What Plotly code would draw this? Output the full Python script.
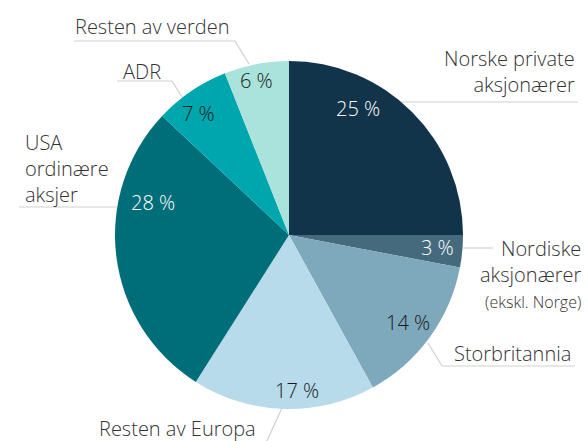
import plotly.graph_objects as go

# Shareholder distribution (percent of shares)
categories = [
    "Norske private aksjonærer",
    "Nordiske aksjonærer (ekskl. Norge)",
    "Storbritannia",
    "Resten av Europa",
    "USA ordinære aksjer",
    "ADR",
    "Resten av verden",
]
shares = [25, 3, 14, 17, 28, 7, 6]
colors = ["#12344A", "#456A7E", "#7EA8BC", "#B7DBEA", "#006E78", "#00A6AE", "#A9E3DC"]
value_text_colors = ["white", "white", "#1a1a1a", "#1a1a1a", "white", "#1a1a1a", "#1a1a1a"]

W, H = 588, 441
FONT = "Open Sans"
WEIGHT = 300
SIZE = 20
LABEL_COLOR = "#333333"
LINE_COLOR = "#d0d0d0"

# Pie placement (pixels)
cx, cy, r = 289, 235, 174


def px(x, y):
    return x / W, 1 - y / H


fig = go.Figure(
    go.Pie(
        labels=categories,
        values=shares,
        sort=False,
        direction="clockwise",
        rotation=0,
        marker=dict(colors=colors, line=dict(width=0)),
        textinfo="none",
        hoverinfo="label+percent",
        showlegend=False,
        domain=dict(x=[(cx - r) / W, (cx + r) / W], y=[(H - cy - r) / H, (H - cy + r) / H]),
    )
)

# value labels inside the slices
value_pos = [(358, 108), (437, 247), (408, 322), (297, 390), (153, 202), (198, 113), (256, 80)]
annotations = []
for v, c, (x, y) in zip(shares, value_text_colors, value_pos):
    ax, ay = px(x, y)
    annotations.append(dict(
        x=ax, y=ay, xref="paper", yref="paper", text=f"{v} %", showarrow=False,
        font=dict(family=FONT, size=SIZE, color=c, weight=WEIGHT), xanchor="center", yanchor="middle",
    ))

# category labels outside the pie
outer_labels = [
    ("Norske private<br>aksjonærer", (577, 72), "right"),
    ("Nordiske<br>aksjonærer<br><span style='font-size:16px'>(ekskl. Norge)</span>", (584, 274), "right"),
    ("Storbritannia", (573, 353), "right"),
    ("Resten av Europa", (258, 428), "right"),
    ("USA<br>ordinære<br>aksjer", (23, 168), "left"),
    ("ADR", (121, 72), "left"),
    ("Resten av verden", (73, 26), "left"),
]
for text, (x, y), anchor in outer_labels:
    ax, ay = px(x, y)
    annotations.append(dict(
        x=ax, y=ay, xref="paper", yref="paper", text=text, showarrow=False,
        font=dict(family=FONT, size=SIZE, color=LABEL_COLOR, weight=WEIGHT),
        xanchor=anchor, yanchor="middle", align=anchor,
    ))

# leader lines (polylines in pixel space)
leaders = [
    [(400, 102), (578, 102)],
    [(463, 248), (493, 248)],
    [(428, 343), (442, 366), (575, 366)],
    [(282, 408), (265, 445)],
    [(117, 207), (19, 207)],
    [(182, 97), (172, 81), (117, 81)],
    [(249, 64), (235, 41), (74, 41)],
]
shapes = []
for pts in leaders:
    for (x0, y0), (x1, y1) in zip(pts[:-1], pts[1:]):
        a0, b0 = px(x0, y0)
        a1, b1 = px(x1, y1)
        shapes.append(dict(
            type="line", xref="paper", yref="paper", x0=a0, y0=b0, x1=a1, y1=b1,
            line=dict(color=LINE_COLOR, width=1.2), layer="below",
        ))

fig.update_layout(
    width=W, height=H,
    margin=dict(l=0, r=0, t=0, b=0),
    paper_bgcolor="white", plot_bgcolor="white",
    annotations=annotations, shapes=shapes,
    font=dict(family=FONT),
)

fig.write_html("out.html")
